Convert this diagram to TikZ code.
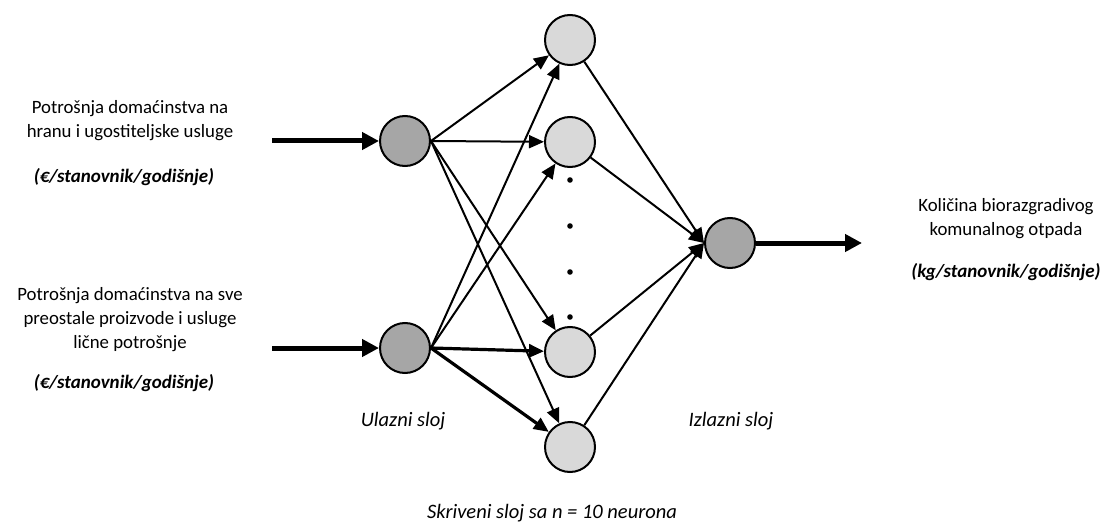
\documentclass[tikz,border=0pt]{standalone}
\usepackage{fontspec}
\setmainfont{Carlito}
\usetikzlibrary{arrows.meta}
\begin{document}
\begin{tikzpicture}[x=1pt,y=-1pt,
  neuronin/.style={circle,draw=black,line width=2pt,fill=black!35,minimum size=50pt,inner sep=0pt},
  neuronhid/.style={circle,draw=black,line width=2pt,fill=black!15,minimum size=50pt,inner sep=0pt},
  conn/.style={line width=2pt,-{Triangle[length=15pt,width=13pt]}},
  connthick/.style={line width=3.2pt,-{Triangle[length=15pt,width=13pt]}},
  bigarrow/.style={line width=5pt,-{Triangle[length=17pt,width=17pt]}},
  lbl/.style={align=center,font=\fontsize{18.8}{24}\selectfont},
  unitlbl/.style={font=\fontsize{19}{22}\selectfont\bfseries\itshape},
  layerlbl/.style={font=\fontsize{20.5}{24}\selectfont\itshape}
]
\useasboundingbox (0,0) rectangle (1103,524);
\node[neuronin] (I1) at (405,141) {};
\node[neuronin] (I2) at (405,348) {};
\node[neuronhid] (H1) at (570,40) {};
\node[neuronhid] (H2) at (570,142) {};
\node[neuronhid] (H3) at (570,352) {};
\node[neuronhid] (H4) at (570,447) {};
\node[neuronin] (O) at (730,243) {};
\foreach \y in {180,226,272,317} \fill (570,\y) circle (2.8pt);
\coordinate (A1) at (272,141);
\coordinate (A2) at (272,348);
\coordinate (A3) at (862,243);
\draw[bigarrow] (A1) -- (I1);
\draw[bigarrow] (A2) -- (I2);
\draw[bigarrow] (O) -- (A3);
\foreach \h in {H1,H2,H3,H4} \draw[conn] (I1.east) -- (\h);
\draw[conn] (I2.east) -- (H1);
\draw[conn] (I2.east) -- (H2);
\draw[connthick] (I2.east) -- (H3);
\draw[connthick] (I2.east) -- (H4);
\foreach \h in {H1,H2,H3,H4} \draw[conn] (\h) -- (O.west);
\node[lbl] (t1) at (130,121) {Potrošnja domaćinstva na\\hranu i ugostiteljske usluge};
\node[unitlbl] (u1) at (124,177) {(€/stanovnik/godišnje)};
\node[lbl] (t2) at (130,320) {Potrošnja domaćinstva na sve\\preostale proizvode i usluge\\lične potrošnje};
\node[unitlbl] (u2) at (124,383) {(€/stanovnik/godišnje)};
\node[lbl] (t3) at (1006,219) {Količina biorazgradivog\\komunalnog otpada};
\node[unitlbl] (u3) at (1006,272) {(kg/stanovnik/godišnje)};
\node[layerlbl] (l1) at (403,421) {Ulazni sloj};
\node[layerlbl] (l2) at (731,421) {Izlazni sloj};
\node[layerlbl] (l3) at (552,513) {Skriveni sloj sa n = 10 neurona};
\end{tikzpicture}
\end{document}
